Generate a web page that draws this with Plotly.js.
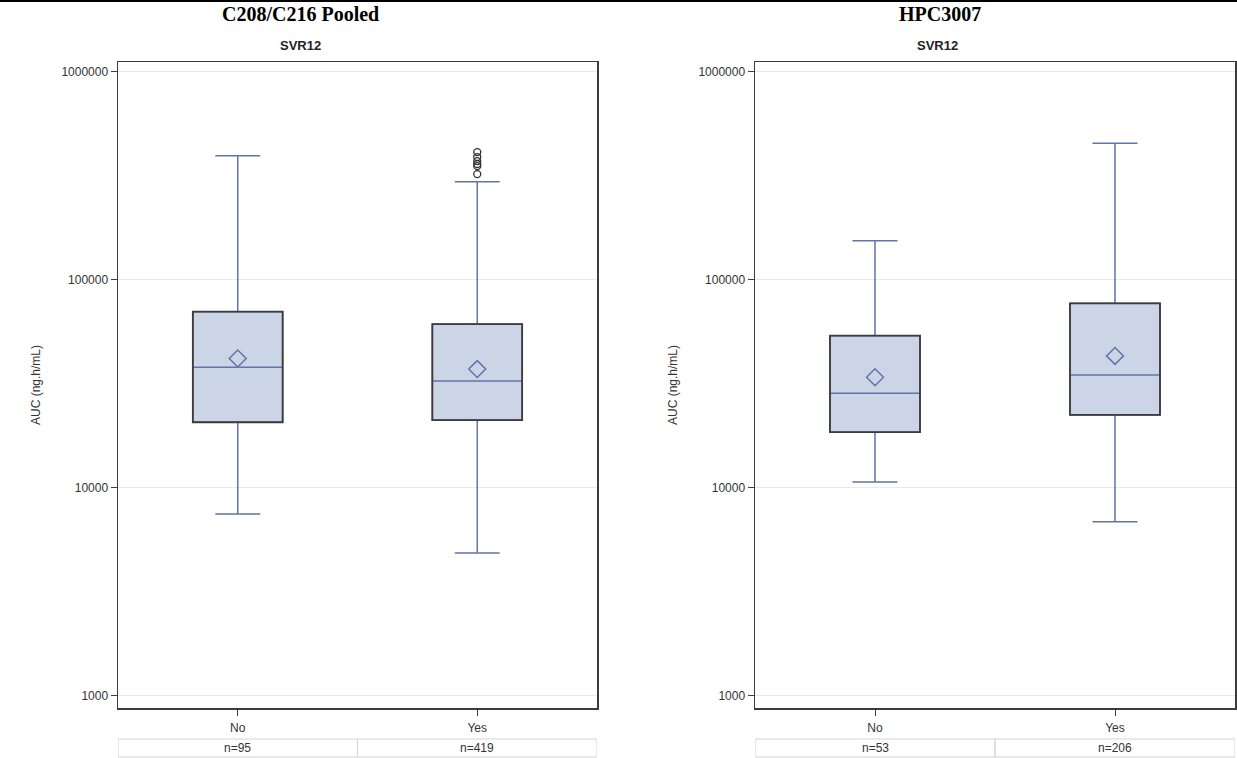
<!DOCTYPE html>
<html>
<head>
<meta charset="utf-8">
<script src="https://cdn.plot.ly/plotly-3.0.1.min.js"></script>
<style>
  html, body { margin: 0; padding: 0; background: #ffffff; }
  #chart { width: 1237px; height: 758px; }
</style>
</head>
<body>
<div id="chart"></div>
<script>
// SVR12 groups
const categories = ['No', 'Yes'];

// C208/C216 pooled: AUC (ng.h/mL) box statistics
const pooledQ1 = [20700, 21200];
const pooledMedian = [38000, 32700];
const pooledQ3 = [70400, 61400];
const pooledLowerWhisker = [7500, 4870];
const pooledUpperWhisker = [396000, 297000];
const pooledMean = [41900, 37300];
const pooledOutlierGroup = ['Yes', 'Yes', 'Yes', 'Yes', 'Yes', 'Yes'];
const pooledOutliers = [323000, 353000, 361000, 373000, 390000, 412000];
const pooledN = [95, 419];

// HPC3007: AUC (ng.h/mL) box statistics
const hpcQ1 = [18550, 22440];
const hpcMedian = [28500, 34900];
const hpcQ3 = [53960, 77200];
const hpcLowerWhisker = [10690, 6870];
const hpcUpperWhisker = [154500, 454000];
const hpcMean = [34060, 43150];
const hpcN = [53, 206];

// Axis ticks
const yTickValues = [1000, 10000, 100000, 1000000];
const yTickLabels = ['1000', '10000', '100000', '1000000'];

// Styling
const BOX_FILL = '#cbd5e6';
const WHISKER = '#6473aa';
const OUTLINE = '#3c3c3c';
const GRID = '#e8e8e8';
const BOX_WIDTH = 0.375;
const FONT = 'Liberation Sans, Arial, sans-serif';

function boxTrace(q1, med, q3, lo, hi, xa, ya) {
  return {
    type: 'box', x: categories, q1: q1, median: med, q3: q3,
    lowerfence: lo, upperfence: hi,
    xaxis: xa, yaxis: ya,
    width: BOX_WIDTH, whiskerwidth: 0.5,
    fillcolor: BOX_FILL,
    line: { color: WHISKER, width: 1.5 },
    boxpoints: false, hoverinfo: 'skip', showlegend: false
  };
}

function meanTrace(mean, xa, ya) {
  return {
    type: 'scatter', mode: 'markers', x: categories, y: mean,
    xaxis: xa, yaxis: ya,
    marker: { symbol: 'diamond-open', size: 13, color: WHISKER, line: { width: 1.5 } },
    hoverinfo: 'skip', showlegend: false
  };
}

// Dark outline around each interquartile box
function outlineShapes(q1, q3, xref, yref) {
  return categories.map((c, i) => ({
    type: 'rect', xref: xref, yref: yref, layer: 'above',
    x0: i - BOX_WIDTH / 2, x1: i + BOX_WIDTH / 2, y0: q1[i], y1: q3[i],
    line: { color: OUTLINE, width: 1.8 }, fillcolor: 'rgba(0,0,0,0)'
  }));
}

// Count row under each panel
const ROW_TOP = (758 - 739) / 758;
const ROW_BOTTOM = (758 - 757) / 758;
function countCells(xref) {
  return categories.map((c, i) => ({
    type: 'rect', xref: xref, yref: 'paper', layer: 'above',
    x0: i - 0.5, x1: i + 0.5, y0: ROW_BOTTOM, y1: ROW_TOP,
    line: { color: '#d4d4d4', width: 1 }, fillcolor: 'rgba(0,0,0,0)'
  }));
}
function countLabels(n, xref) {
  return categories.map((c, i) => ({
    xref: xref, yref: 'paper', x: i, y: (ROW_TOP + ROW_BOTTOM) / 2,
    text: 'n=' + n[i], showarrow: false, xanchor: 'center', yanchor: 'middle',
    font: { family: FONT, size: 12, color: '#333333' }
  }));
}

function heading(text, xPx, yPx, font) {
  return {
    xref: 'paper', yref: 'paper', x: xPx / 1237, y: 1 - yPx / 758,
    xanchor: 'center', yanchor: 'middle',
    text: text, showarrow: false, font: font
  };
}
const TITLE_FONT = { family: 'Liberation Serif, Times New Roman, serif', size: 20, color: '#000000' };
const SUB_FONT = { family: FONT, size: 13, color: '#222222' };

const traces = [
  boxTrace(pooledQ1, pooledMedian, pooledQ3, pooledLowerWhisker, pooledUpperWhisker, 'x', 'y'),
  meanTrace(pooledMean, 'x', 'y'),
  {
    type: 'scatter', mode: 'markers', x: pooledOutlierGroup, y: pooledOutliers,
    xaxis: 'x', yaxis: 'y',
    marker: { symbol: 'circle-open', size: 7, color: '#333333', line: { width: 1.3 } },
    hoverinfo: 'skip', showlegend: false
  },
  boxTrace(hpcQ1, hpcMedian, hpcQ3, hpcLowerWhisker, hpcUpperWhisker, 'x2', 'y2'),
  meanTrace(hpcMean, 'x2', 'y2')
];

const PLOT_TOP = (758 - 62) / 758;
const PLOT_BOTTOM = (758 - 708) / 758;

function xAxis(domain, anchor) {
  return {
    domain: domain, anchor: anchor, type: 'category', range: [-0.5, 1.5],
    showline: true, mirror: true, linecolor: OUTLINE, linewidth: 1.5,
    ticks: 'outside', ticklen: 6, tickcolor: OUTLINE, tickwidth: 1,
    showgrid: false, zeroline: false, ticklabelstandoff: 2,
    tickfont: { family: FONT, size: 12, color: '#333333' }
  };
}
function yAxis(anchor) {
  return {
    domain: [PLOT_BOTTOM, PLOT_TOP], anchor: anchor, type: 'log', range: [2.942, 6.048],
    tickvals: yTickValues, ticktext: yTickLabels,
    showline: true, mirror: true, linecolor: OUTLINE, linewidth: 1.5,
    ticks: 'outside', ticklen: 6, tickcolor: OUTLINE, tickwidth: 1,
    showgrid: true, gridcolor: GRID, gridwidth: 1, zeroline: false,
    tickfont: { family: FONT, size: 12, color: '#333333' },
    title: { text: 'AUC (ng.h/mL)', standoff: 18, font: { family: FONT, size: 12, color: '#333333' } }
  };
}

const layout = {
  width: 1237, height: 758,
  margin: { l: 0, r: 0, t: 0, b: 0 },
  paper_bgcolor: '#ffffff', plot_bgcolor: '#ffffff',
  xaxis: xAxis([118 / 1237, 597 / 1237], 'y'),
  yaxis: yAxis('x'),
  xaxis2: xAxis([755 / 1237, 1235 / 1237], 'y2'),
  yaxis2: yAxis('x2'),
  shapes: [
    { type: 'line', xref: 'paper', yref: 'paper', x0: 0, x1: 1, y0: 1, y1: 1,
      line: { color: '#000000', width: 4 } },
    ...outlineShapes(pooledQ1, pooledQ3, 'x', 'y'),
    ...outlineShapes(hpcQ1, hpcQ3, 'x2', 'y2'),
    ...countCells('x'),
    ...countCells('x2')
  ],
  annotations: [
    heading('<b>C208/C216 Pooled</b>', 300, 14, TITLE_FONT),
    heading('<b>SVR12</b>', 300, 46, SUB_FONT),
    heading('<b>HPC3007</b>', 940, 14, TITLE_FONT),
    heading('<b>SVR12</b>', 937, 46, SUB_FONT),
    ...countLabels(pooledN, 'x'),
    ...countLabels(hpcN, 'x2')
  ]
};

Plotly.newPlot('chart', traces, layout, { staticPlot: true, displayModeBar: false });
</script>
</body>
</html>
